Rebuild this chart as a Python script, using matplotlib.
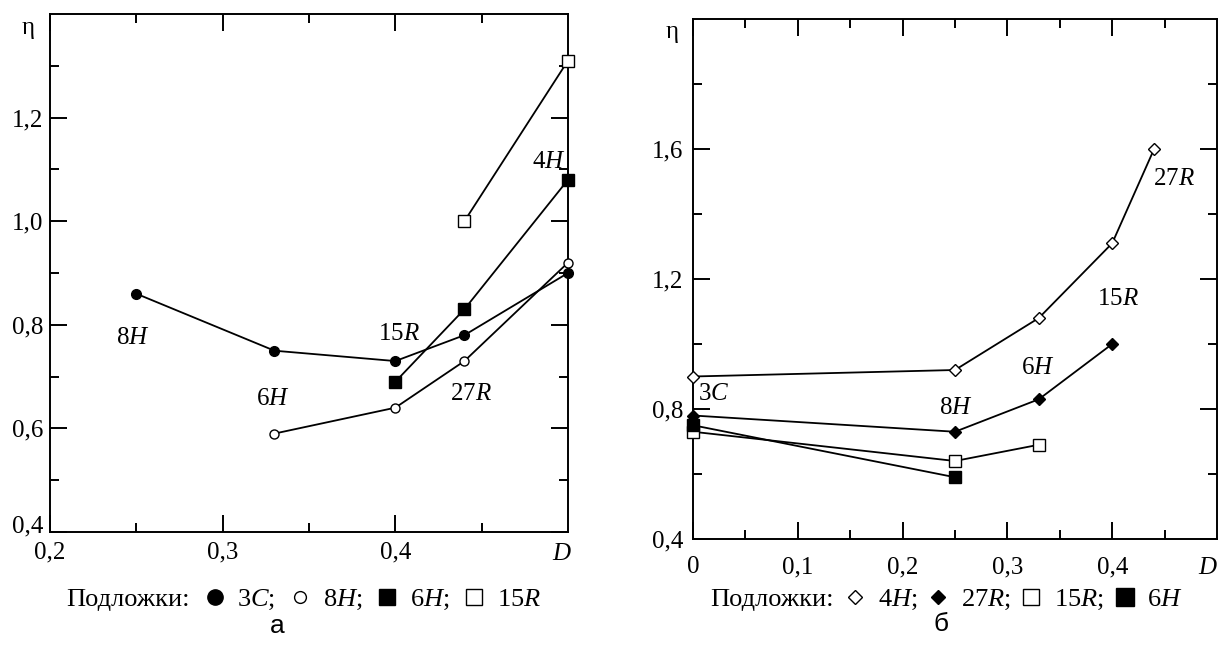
import matplotlib
matplotlib.use('Agg')
import matplotlib.pyplot as plt
from matplotlib.lines import Line2D
from matplotlib.ticker import FixedLocator

plt.rcParams['font.family'] = ['Liberation Serif', 'DejaVu Serif']
plt.rcParams['mathtext.fontset'] = 'custom'
plt.rcParams['mathtext.rm'] = 'Liberation Serif'
plt.rcParams['mathtext.it'] = 'Liberation Serif:italic'
plt.rcParams['mathtext.bf'] = 'Liberation Serif:bold'

# ---------------- Panel a data ----------------
a_3C_x = [0.25, 0.33, 0.40, 0.44, 0.50]
a_3C_y = [0.86, 0.75, 0.73, 0.78, 0.90]
a_8H_x = [0.33, 0.40, 0.44, 0.50]
a_8H_y = [0.59, 0.64, 0.73, 0.92]
a_6H_x = [0.40, 0.44, 0.50]
a_6H_y = [0.69, 0.83, 1.08]
a_15R_x = [0.44, 0.50]
a_15R_y = [1.00, 1.31]
a_xticks = [0.2, 0.3, 0.4]
a_xticklabels = ['0,2', '0,3', '0,4']
a_yticks = [0.4, 0.6, 0.8, 1.0, 1.2]
a_yticklabels = ['0,4', '0,6', '0,8', '1,0', '1,2']
a_text = ['8$H$', '6$H$', '15$R$', '27$R$', '4$H$']
a_text_x = [0.248, 0.329, 0.402, 0.444, 0.489]
a_text_y = [0.775, 0.657, 0.783, 0.667, 1.115]
a_legend = ['Подложки:', '3$C$;', '8$H$;', '6$H$;', '15$R$']

# ---------------- Panel б data ----------------
b_4H_x = [0.0, 0.25, 0.33, 0.40, 0.44]
b_4H_y = [0.90, 0.92, 1.08, 1.31, 1.60]
b_27R_x = [0.0, 0.25, 0.33, 0.40]
b_27R_y = [0.78, 0.73, 0.83, 1.00]
b_15R_x = [0.0, 0.25, 0.33]
b_15R_y = [0.73, 0.64, 0.69]
b_6H_x = [0.0, 0.25]
b_6H_y = [0.75, 0.59]
b_xticks = [0.0, 0.1, 0.2, 0.3, 0.4]
b_xticklabels = ['0', '0,1', '0,2', '0,3', '0,4']
b_yticks = [0.4, 0.8, 1.2, 1.6]
b_yticklabels = ['0,4', '0,8', '1,2', '1,6']
b_text = ['27$R$', '15$R$', '6$H$', '8$H$', '3$C$']
b_text_x = [0.459, 0.405, 0.329, 0.251, 0.020]
b_text_y = [1.508, 1.138, 0.926, 0.803, 0.846]
b_legend = ['Подложки:', '4$H$;', '27$R$;', '15$R$;', '6$H$']

FS = 18      # tick labels
FA = 18      # annotations
FL = 19      # legend line
LW = 1.3

fig = plt.figure(figsize=(12.18, 6.45), dpi=100)
axa = fig.add_axes([50 / 1218, 1 - 532 / 645, 518 / 1218, 518 / 645])
axb = fig.add_axes([693 / 1218, 1 - 539 / 645, 524 / 1218, 520 / 645])


def style_axes(ax, xpad, ypad):
    for s in ax.spines.values():
        s.set_linewidth(1.4)
    ax.tick_params(which='both', direction='in', top=True, right=True,
                   labelsize=FS, width=1.4)
    ax.tick_params(which='major', length=12.5)
    ax.tick_params(which='minor', length=6.5)
    ax.tick_params(axis='x', which='major', pad=xpad)
    ax.tick_params(axis='y', which='major', pad=ypad)


# ---- panel a ----
k = dict(color='black', lw=LW, clip_on=False, zorder=3)
axa.plot(a_3C_x, a_3C_y, marker='o', ms=7, mfc='black', mec='black', **k)
axa.plot(a_8H_x, a_8H_y, marker='o', ms=6.5, mfc='white', mec='black', mew=1.0, **k)
axa.plot(a_6H_x, a_6H_y, marker='s', ms=8.5, mfc='black', mec='black', **k)
axa.plot(a_15R_x, a_15R_y, marker='s', ms=8, mfc='white', mec='black', mew=1.0, **k)
axa.set_xlim(0.2, 0.5)
axa.set_ylim(0.4, 1.4)
axa.xaxis.set_major_locator(FixedLocator(a_xticks))
axa.set_xticklabels(a_xticklabels)
axa.xaxis.set_minor_locator(FixedLocator([0.25, 0.35, 0.45]))
axa.yaxis.set_major_locator(FixedLocator(a_yticks))
axa.set_yticklabels(a_yticklabels)
axa.yaxis.set_minor_locator(FixedLocator([0.5, 0.7, 0.9, 1.1, 1.3]))
style_axes(axa, 7, 5)
axa.yaxis.get_major_ticks()[0].label1.set_va('baseline')
for t, x, y in zip(a_text, a_text_x, a_text_y):
    axa.text(x, y, t, fontsize=FA, ha='center', va='center')
axa.text(-0.043, 0.973, 'η', transform=axa.transAxes, fontsize=FA,
         ha='center', va='center')
axa.annotate('$D$', xy=(1, 0), xycoords='axes fraction', xytext=(3, -8),
             textcoords='offset points', ha='right', va='top', fontsize=FA)

ha = [Line2D([], [], ls='none'),
      Line2D([], [], ls='none', marker='o', ms=11, mfc='black', mec='black'),
      Line2D([], [], ls='none', marker='o', ms=8.5, mfc='white', mec='black', mew=1.0),
      Line2D([], [], ls='none', marker='s', ms=12, mfc='black', mec='black'),
      Line2D([], [], ls='none', marker='s', ms=12, mfc='white', mec='black', mew=1.0)]
fig.legend(ha, a_legend, loc='center', bbox_to_anchor=(287 / 1218, 1 - 600 / 645),
           ncol=5, frameon=False, fontsize=FL, handlelength=0.8, handletextpad=0.45,
           columnspacing=0.55, borderpad=0)
fig.text(277 / 1218, 1 - 626 / 645, 'а', family='Liberation Sans', fontsize=FL,
         ha='center', va='center')

# ---- panel б ----
axb.plot(b_4H_x, b_4H_y, marker='D', ms=6.5, mfc='white', mec='black', mew=1.0, **k)
axb.plot(b_27R_x, b_27R_y, marker='D', ms=6.5, mfc='black', mec='black', **k)
axb.plot(b_15R_x, b_15R_y, marker='s', ms=8.5, mfc='white', mec='black', mew=1.0, **k)
axb.plot(b_6H_x, b_6H_y, marker='s', ms=9, mfc='black', mec='black', **k)
axb.set_xlim(0.0, 0.5)
axb.set_ylim(0.4, 2.0)
axb.xaxis.set_major_locator(FixedLocator(b_xticks))
axb.set_xticklabels(b_xticklabels)
axb.xaxis.set_minor_locator(FixedLocator([0.05, 0.15, 0.25, 0.35, 0.45]))
axb.yaxis.set_major_locator(FixedLocator(b_yticks))
axb.set_yticklabels(b_yticklabels)
axb.yaxis.set_minor_locator(FixedLocator([0.6, 1.0, 1.4, 1.8]))
style_axes(axb, 12.5, 7)
for t, x, y in zip(b_text, b_text_x, b_text_y):
    axb.text(x, y, t, fontsize=FA, ha='center', va='center')
axb.text(-0.04, 0.975, 'η', transform=axb.transAxes, fontsize=FA,
         ha='center', va='center')
axb.annotate('$D$', xy=(1, 0), xycoords='axes fraction', xytext=(0.5, -13),
             textcoords='offset points', ha='right', va='top', fontsize=FA)

hb = [Line2D([], [], ls='none'),
      Line2D([], [], ls='none', marker='D', ms=7.5, mfc='white', mec='black', mew=1.0),
      Line2D([], [], ls='none', marker='D', ms=7.5, mfc='black', mec='black'),
      Line2D([], [], ls='none', marker='s', ms=11, mfc='white', mec='black', mew=1.0),
      Line2D([], [], ls='none', marker='s', ms=13, mfc='black', mec='black')]
fig.legend(hb, b_legend, loc='center', bbox_to_anchor=(930 / 1218, 1 - 600 / 645),
           ncol=5, frameon=False, fontsize=FL, handlelength=0.8, handletextpad=0.45,
           columnspacing=0.4, borderpad=0)
fig.text(941 / 1218, 1 - 624 / 645, 'б', family='Liberation Sans', fontsize=FL,
         ha='center', va='center')

fig.savefig('out.png', dpi=100)
